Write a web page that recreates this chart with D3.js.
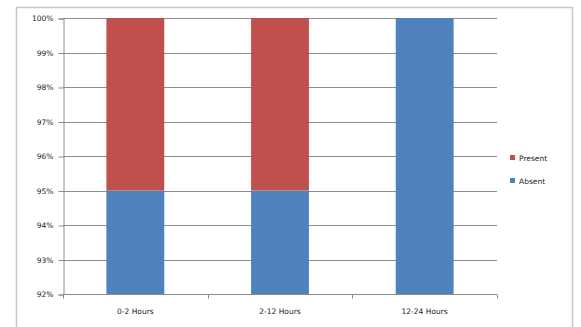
<!DOCTYPE html>
<html>
<head>
<meta charset="utf-8">
<script src="https://cdn.jsdelivr.net/npm/d3@7"></script>
<style>
  html, body { margin: 0; padding: 0; background: #fff; }
  svg { display: block; }
  text { font-family: "DejaVu Sans", sans-serif; fill: #222; }
</style>
</head>
<body>
<svg id="chart" width="581" height="327"></svg>
<script>
// Share of cases by time window
const categories = ["0-2 Hours", "2-12 Hours", "12-24 Hours"];
const absent = [95, 95, 100];
const present = [5, 5, 0];
const seriesNames = ["Absent", "Present"];
const seriesColors = ["#4F81BD", "#C0504D"];
const yTicks = [92, 93, 94, 95, 96, 97, 98, 99, 100];

const svg = d3.select("#chart");
const W = 581, H = 327;

// Chart frame
svg.append("rect")
  .attr("x", 16.5).attr("y", 7.5)
  .attr("width", 556).attr("height", 330)
  .attr("fill", "#fff").attr("stroke", "#c8c8c8").attr("stroke-width", 1.5);

const plot = { left: 63, right: 497, top: 18, bottom: 294 };

const x = d3.scaleBand()
  .domain(categories)
  .range([plot.left, plot.right])
  .paddingInner(0.6).paddingOuter(0.3);

const xOuter = d3.scaleBand().domain(categories).range([plot.left, plot.right]);

const y = d3.scaleLinear().domain([92, 100]).range([plot.bottom, plot.top]);

// Gridlines
svg.append("g")
  .selectAll("line")
  .data(yTicks)
  .join("line")
  .attr("x1", plot.left).attr("x2", plot.right)
  .attr("y1", d => Math.round(y(d)) + 0.5).attr("y2", d => Math.round(y(d)) + 0.5)
  .attr("stroke", "#8c8c8c").attr("stroke-width", 1);

// Stacked bars
const rows = categories.map((c, i) => ({ cat: c, Absent: absent[i], Present: present[i] }));
const stack = d3.stack().keys(seriesNames);
const layers = stack(rows);

svg.append("g")
  .selectAll("g")
  .data(layers)
  .join("g")
  .attr("fill", (d, i) => seriesColors[i])
  .selectAll("rect")
  .data(d => d)
  .join("rect")
  .attr("x", d => x(d.data.cat))
  .attr("width", x.bandwidth())
  .attr("y", d => y(Math.min(100, Math.max(92, d[1]))))
  .attr("height", d => {
    const lo = Math.max(92, d[0]), hi = Math.min(100, d[1]);
    return Math.max(0, y(lo) - y(hi));
  });

// Y axis
const yAxis = d3.axisLeft(y)
  .tickValues(yTicks)
  .tickFormat(d => d + "%")
  .tickSize(5)
  .tickPadding(5);

const gy = svg.append("g")
  .attr("transform", `translate(${plot.left + 0.5},0.5)`)
  .call(yAxis);
gy.select(".domain").attr("stroke", "#8c8c8c");
gy.selectAll(".tick line").attr("stroke", "#8c8c8c");
gy.selectAll(".tick text")
  .attr("font-size", 7.5)
  .attr("font-family", "DejaVu Sans, sans-serif")
  .attr("fill", "#333");

// X axis
const gx = svg.append("g")
  .attr("transform", `translate(0,${plot.bottom + 0.5})`);
gx.append("line")
  .attr("x1", plot.left).attr("x2", plot.right)
  .attr("stroke", "#8c8c8c");
const boundaries = categories.map(c => xOuter(c)).concat([plot.right]);
gx.selectAll("line.tk")
  .data(boundaries)
  .join("line")
  .attr("class", "tk")
  .attr("x1", d => Math.round(d) + 0.5).attr("x2", d => Math.round(d) + 0.5)
  .attr("y1", 0).attr("y2", 4)
  .attr("stroke", "#8c8c8c");
gx.selectAll("text")
  .data(categories)
  .join("text")
  .attr("x", d => xOuter(d) + xOuter.bandwidth() / 2)
  .attr("y", 19)
  .attr("text-anchor", "middle")
  .attr("font-size", 7.5)
  .attr("fill", "#333")
  .text(d => d);

// Legend
const legendItems = [
  { name: "Present", color: seriesColors[1] },
  { name: "Absent", color: seriesColors[0] }
];
const lg = svg.append("g").attr("transform", "translate(510,158)");
legendItems.forEach((it, i) => {
  const g = lg.append("g").attr("transform", `translate(0,${i * 23})`);
  g.append("rect").attr("x", 0).attr("y", -3).attr("width", 5).attr("height", 5).attr("fill", it.color);
  g.append("text").attr("x", 9).attr("y", 2.5).attr("font-size", 7.5).attr("fill", "#333").text(it.name);
});
</script>
</body>
</html>
